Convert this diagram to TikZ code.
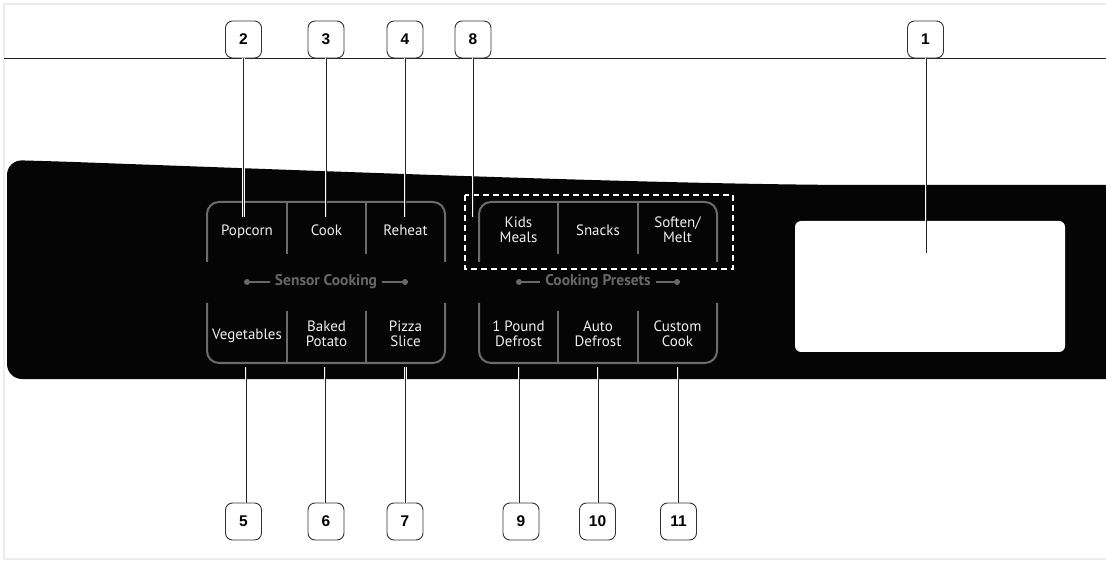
\documentclass[tikz,border=0pt]{standalone}
\usepackage{fontspec}
\setmainfont{PT Sans}
\newfontfamily\numfont{Liberation Sans}
\usetikzlibrary{calc}

\definecolor{rimgray}{RGB}{108,108,108}
\definecolor{capgray}{RGB}{104,104,104}
\definecolor{keytext}{RGB}{238,238,238}

\begin{document}
\begin{tikzpicture}[x=1pt, y=-1pt,
    callout/.style={draw=black!80, fill=white, rounded corners=7pt, line width=0.9pt,
      minimum width=36pt, minimum height=37pt, inner sep=0pt,
      font=\numfont\bfseries\fontsize{15.5}{15.5}\selectfont},
    leader/.style={draw=white, double=black!85, double distance=0.9pt, line width=0.8pt},
    keyrim/.style={draw=rimgray, line width=2pt, rounded corners=12pt},
    divider/.style={draw=rimgray, line width=1.2pt},
    key/.style={text=keytext, align=center, inner sep=0pt,
      font=\fontsize{15}{15}\selectfont},
    caption/.style={text=capgray, inner sep=0pt, font=\bfseries\fontsize{15.5}{15.5}\selectfont}]
  \useasboundingbox (0,0) rectangle (1106,561);
  \clip (0,0) rectangle (1106,561);
  \fill[white] (0,0) rectangle (1106,561);
  \draw[black!7, line width=1.5pt] (4,4) rectangle (1120,559);

  % rule under the callouts
  \draw[black!85, line width=0.9pt] (4,58) -- (1106,58);

  % control panel
  \fill[black!98] (1110,185) -- (1110,379) [rounded corners=15pt] -- (7,379) -- (7,160)
    -- (60,161.5) [sharp corners] .. controls (350,172) and (650,184) .. (850,185) -- cycle;

  % Sensor Cooking keys
  \draw[keyrim] (207,262) -- (207,202) -- (445,202) -- (445,262);
  \draw[divider] (287,203) -- (287,254) (366,203) -- (366,254);
  \draw[keyrim] (207,303) -- (207,363) -- (445,363) -- (445,303);
  \draw[divider] (287,311) -- (287,363) (366,311) -- (366,363);
  \node[key] (popcorn) at (247,231.5) {Popcorn};
  \node[key] (cook) at (326.5,230) {Cook};
  \node[key] (reheat) at (405.5,230) {Reheat};
  \node[key] (veg) at (247,335.5) {Vegetables};
  \node[key] (potato) at (326.5,334) {Baked\\Potato};
  \node[key] (pizza) at (405.5,334) {Pizza\\Slice};
  \node[caption] (sensor) at (326,282) {Sensor Cooking};
  \fill[capgray] (247,282) circle (3pt) (405,282) circle (3pt);
  \draw[capgray, line width=1.2pt] (247,282) -- ([xshift=-5pt]sensor.west)
    ([xshift=5pt]sensor.east) -- (405,282);

  % Cooking Presets keys
  \draw[keyrim] (479,262) -- (479,202) -- (717,202) -- (717,262);
  \draw[divider] (558,203) -- (558,254) (638,203) -- (638,254);
  \draw[keyrim] (479,303) -- (479,363) -- (717,363) -- (717,303);
  \draw[divider] (558,311) -- (558,363) (638,311) -- (638,363);
  \node[key] (kids) at (518.5,230) {Kids\\Meals};
  \node[key] (snacks) at (598,230) {Snacks};
  \node[key] (soften) at (677.5,230) {Soften/\\Melt};
  \node[key] (pound) at (518.5,334) {1 Pound\\Defrost};
  \node[key] (auto) at (598,334) {Auto\\Defrost};
  \node[key] (custom) at (677.5,334) {Custom\\Cook};
  \node[caption] (presets) at (598,282) {Cooking Presets};
  \fill[capgray] (519,282) circle (3pt) (677,282) circle (3pt);
  \draw[capgray, line width=1.2pt] (519,282) -- ([xshift=-5pt]presets.west)
    ([xshift=5pt]presets.east) -- (677,282);

  % presets marked by 8
  \draw[white, line width=2pt, dash pattern=on 6pt off 4pt] (465,195) rectangle (733,269);

  % display
  \fill[white, rounded corners=6pt] (795,221) rectangle (1065,352);

  % leader ends
  \coordinate (t1) at (926,253);
  \coordinate (t2) at (243.5,217);
  \coordinate (t3) at (326,217);
  \coordinate (t4) at (405,217);
  \coordinate (t8) at (473,217);
  \coordinate (t5) at (246,367);
  \coordinate (t6) at (325,367);
  \coordinate (t7) at (405.5,367);
  \coordinate (t9) at (519,367);
  \coordinate (t10) at (598,367);
  \coordinate (t11) at (678,367);

  % callouts
  \node[callout] (c1) at (925.5,39.5) {1};
  \node[callout] (c2) at (243.5,39.5) {2};
  \node[callout] (c3) at (326,39.5) {3};
  \node[callout] (c4) at (405,39.5) {4};
  \node[callout] (c8) at (473,39.5) {8};
  \node[callout] (c5) at (243.5,521.5) {5};
  \node[callout] (c6) at (326,521.5) {6};
  \node[callout] (c7) at (405,521.5) {7};
  \node[callout] (c9) at (521,521.5) {9};
  \node[callout] (c10) at (597.5,521.5) {10};
  \node[callout] (c11) at (678.5,521.5) {11};

  \draw[leader] (c1.south -| t1) -- (t1);
  \draw[leader] (c2.south -| t2) -- (t2);
  \draw[leader] (c3.south -| t3) -- (t3);
  \draw[leader] (c4.south -| t4) -- (t4);
  \draw[leader] (c8.south -| t8) -- (t8);
  \draw[leader] (c5.north -| t5) -- (t5);
  \draw[leader] (c6.north -| t6) -- (t6);
  \draw[leader] (c7.north -| t7) -- (t7);
  \draw[leader] (c9.north -| t9) -- (t9);
  \draw[leader] (c10.north -| t10) -- (t10);
  \draw[leader] (c11.north -| t11) -- (t11);
\end{tikzpicture}
\end{document}
